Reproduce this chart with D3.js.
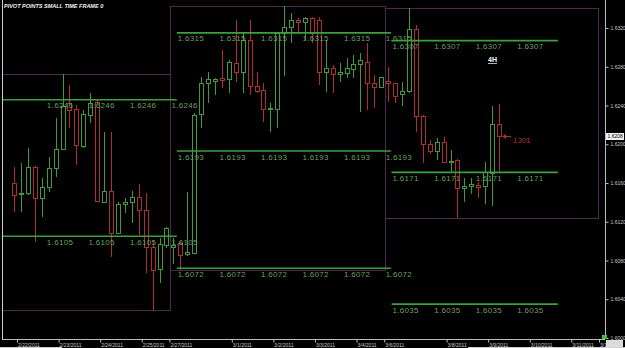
<!DOCTYPE html>
<html>
<head>
<meta charset="utf-8">
<script src="https://cdn.jsdelivr.net/npm/d3@7/dist/d3.min.js"></script>
<style>
  html, body { margin: 0; padding: 0; background: #000; }
  svg { display: block; }
</style>
</head>
<body>
<div id="chart"></div>
<script>
// 4H candles, GBP/USD style prices
const opens = [1.6160,1.6149,1.6150,1.6177,1.6144,1.6156,1.6175,1.6195,1.6243,1.6236,1.6198,1.6230,1.6244,1.6140,1.6152,1.6108,1.6138,1.6140,1.6146,1.6132,1.6094,1.6071,1.6096,1.6094,1.6098,1.6087,1.6088,1.6231,1.6263,1.6265,1.6268,1.6267,1.6284,1.6275,1.6308,1.6260,1.6256,1.6236,1.6236,1.6315,1.6321,1.6328,1.6326,1.6330,1.6328,1.6275,1.6279,1.6272,1.6274,1.6278,1.6283,1.6285,1.6263,1.6259,1.6265,1.6263,1.6252,1.6255,1.6319,1.6229,1.6200,1.6193,1.6202,1.6182,1.6184,1.6155,1.6157,1.6158,1.6157,1.6170,1.6221];
const highs = [1.6177,1.6181,1.6196,1.6178,1.6165,1.6187,1.6227,1.6273,1.6261,1.6241,1.6235,1.6253,1.6246,1.6213,1.6213,1.6140,1.6145,1.6152,1.6159,1.6150,1.6101,1.6103,1.6115,1.6103,1.6099,1.6151,1.6232,1.6269,1.6275,1.6268,1.6297,1.6287,1.6328,1.6316,1.6328,1.6275,1.6263,1.6243,1.6316,1.6343,1.6335,1.6330,1.6331,1.6331,1.6331,1.6308,1.6282,1.6284,1.6289,1.6292,1.6294,1.6305,1.6272,1.6269,1.6280,1.6263,1.6264,1.6341,1.6323,1.6230,1.6204,1.6206,1.6207,1.6194,1.6185,1.6165,1.6165,1.6161,1.6182,1.6239,1.6242];
const lows = [1.6130,1.6130,1.6148,1.6099,1.6125,1.6151,1.6166,1.6194,1.6217,1.6179,1.6196,1.6222,1.6140,1.6139,1.6084,1.6107,1.6129,1.6119,1.6106,1.6067,1.6029,1.6057,1.6093,1.6076,1.6070,1.6085,1.6088,1.6217,1.6243,1.6251,1.6258,1.6253,1.6264,1.6253,1.6251,1.6253,1.6223,1.6213,1.6217,1.6270,1.6305,1.6316,1.6308,1.6305,1.6261,1.6254,1.6253,1.6264,1.6268,1.6268,1.6233,1.6235,1.6237,1.6259,1.6244,1.6243,1.6239,1.6253,1.6213,1.6181,1.6190,1.6184,1.6181,1.6170,1.6124,1.6140,1.6149,1.6145,1.6138,1.6136,1.6171];
const closes = [1.6148,1.6150,1.6177,1.6144,1.6156,1.6175,1.6195,1.6239,1.6235,1.6199,1.6231,1.6243,1.6141,1.6152,1.6108,1.6138,1.6140,1.6146,1.6132,1.6094,1.6070,1.6097,1.6114,1.6096,1.6086,1.6089,1.6230,1.6263,1.6267,1.6267,1.6266,1.6285,1.6275,1.6308,1.6260,1.6255,1.6236,1.6237,1.6315,1.6321,1.6328,1.6326,1.6330,1.6315,1.6275,1.6279,1.6273,1.6275,1.6279,1.6283,1.6287,1.6263,1.6259,1.6269,1.6263,1.6250,1.6255,1.6319,1.6229,1.6200,1.6193,1.6202,1.6182,1.6183,1.6155,1.6157,1.6159,1.6156,1.6171,1.6221,1.6208];

// date labels on the time axis, with the bar index they sit on
const dateLabels = ["2/22/2011","2/23/2011","2/24/2011","2/25/2011","2/27/2011","3/1/2011","3/2/2011","3/3/2011","3/4/2011","3/6/2011","3/8/2011","3/9/2011","3/10/2011","3/11/2011","3/12/2011"];
const dateIdx = [0,6,12,18,22,31,37,43,49,53,62,68,74,80,84];

const yTicks = [1.6320,1.6280,1.6240,1.6200,1.6160,1.6120,1.6080,1.6040,1.6000];

// pivot periods (bar index ranges) and their levels
const periodStart = [-1.7, 22.5, 53.5];
const periodEnd = [22.5, 53.5, 84.3];
const pivotFrom = [-7.4, 23.5, 54.5];
const pivotTo = [23.5, 54.4, 78.5];
const pivotLevels = [[1.6246, 1.6105], [1.6315, 1.6193, 1.6072], [1.6307, 1.6171, 1.6035]];

const lastLabel = "1301";
const priceTag = "1.6208";

const W = 625, H = 348;
const green = "#3f9a3f", red = "#ad3030";

const svg = d3.select("#chart").append("svg")
	.attr("width", W)
	.attr("height", H)
	.style("background", "#000");

const x = d3.scaleLinear().domain([0, 70]).range([14, 499]);
const y = d3.scaleLinear().domain([1.6000, 1.6320]).range([338, 28]);
const fmt = d3.format(".4f");

svg.append("clipPath").attr("id", "plot")
	.append("rect").attr("x", 3).attr("y", 0).attr("width", 602).attr("height", 339);

const plot = svg.append("g").attr("clip-path", "url(#plot)");

// period boxes (high/low range of the bars in each period)
periodStart.forEach(function(s, k) {
	let e = periodEnd[k];
	let idx = d3.range(opens.length).filter(function(i) { return i > s && i < e; });
	let hi = d3.max(idx, function(i) { return highs[i]; });
	let lo = d3.min(idx, function(i) { return lows[i]; });
	plot.append("rect")
		.attr("x", Math.round(x(s)) + 0.5)
		.attr("y", Math.round(y(hi)) + 0.5)
		.attr("width", Math.round(x(e)) - Math.round(x(s)))
		.attr("height", Math.round(y(lo)) - Math.round(y(hi)))
		.attr("fill", "none")
		.attr("stroke", "#4e284f")
		.attr("stroke-width", 1);
});

// candles
const candles = plot.selectAll("g.candle")
	.data(d3.range(opens.length))
	.enter().append("g")
	.attr("class", "candle")
	.attr("shape-rendering", "crispEdges");

candles.append("line")
	.attr("x1", function(i) { return Math.round(x(i)) + 0.5; })
	.attr("x2", function(i) { return Math.round(x(i)) + 0.5; })
	.attr("y1", function(i) { return y(highs[i]); })
	.attr("y2", function(i) { return y(lows[i]); })
	.attr("stroke", function(i) { return closes[i] >= opens[i] ? green : red; });

candles.append("rect")
	.attr("x", function(i) { return Math.round(x(i)) - 2 + 0.5; })
	.attr("y", function(i) { return Math.round(y(Math.max(opens[i], closes[i]))) + 0.5; })
	.attr("width", 4)
	.attr("height", function(i) { return Math.max(1, Math.round(y(Math.min(opens[i], closes[i]))) - Math.round(y(Math.max(opens[i], closes[i])))); })
	.attr("fill", "#000")
	.attr("stroke", function(i) { return closes[i] >= opens[i] ? green : red; });

// pivot lines and their labels
pivotLevels.forEach(function(levels, k) {
	levels.forEach(function(v) {
		plot.append("line")
			.attr("x1", x(pivotFrom[k]))
			.attr("x2", x(pivotTo[k]))
			.attr("y1", y(v))
			.attr("y2", y(v))
			.attr("stroke", "#3aa23a")
			.attr("stroke-width", 1.6);
		let pos = d3.range(pivotFrom[k], pivotTo[k] - 0.5, 6).filter(function(p) { return p >= 0; });
		plot.selectAll(null)
			.data(pos)
			.enter().append("text")
			.attr("x", function(p) { return x(p) + 1; })
			.attr("y", y(v) + 8.5)
			.attr("font-family", "Liberation Sans, Arial, sans-serif")
			.attr("font-size", "8px")
			.attr("letter-spacing", "0.3px")
			.attr("fill", "#6b9f62")
			.text(fmt(v));
	});
});

// last bar marker label
const lastI = opens.length - 1;
const ly = y(closes[lastI]);
plot.append("line")
	.attr("x1", x(lastI) + 4).attr("x2", x(lastI) + 12)
	.attr("y1", ly).attr("y2", ly)
	.attr("stroke", red).attr("stroke-width", 1.2);
plot.append("path")
	.attr("d", "M" + (x(lastI) + 3) + "," + ly + "l4,-2.5l0,5z")
	.attr("fill", red);
plot.append("text")
	.attr("x", x(lastI) + 14)
	.attr("y", ly + 6)
	.attr("font-family", "Liberation Sans, Arial, sans-serif")
	.attr("font-size", "8px")
	.attr("fill", red)
	.text(lastLabel);

// frame
svg.append("line").attr("x1", 2.5).attr("x2", 2.5).attr("y1", 0).attr("y2", 339)
	.attr("stroke", "#cfcfcf");
svg.append("line").attr("x1", 2).attr("x2", 605).attr("y1", 339.5).attr("y2", 339.5)
	.attr("stroke", "#bdbdbd");

// price axis
const yAxis = svg.append("g")
	.attr("transform", "translate(605.5,0)")
	.call(d3.axisRight(y).tickValues(yTicks).tickFormat(fmt).tickSize(3).tickPadding(2));
yAxis.select(".domain").attr("stroke", "#bdbdbd").attr("d", "M0,0V339");
yAxis.selectAll(".tick line").attr("stroke", "#bdbdbd");
yAxis.selectAll("text")
	.attr("fill", "#c8c8c8")
	.attr("font-family", "Liberation Sans, Arial, sans-serif")
	.attr("font-size", "5px");

// time axis
const xAxis = svg.append("g")
	.attr("transform", "translate(0,339.5)")
	.call(d3.axisBottom(x).tickValues(dateIdx)
		.tickFormat(function(d, i) { return dateLabels[i]; })
		.tickSize(3).tickPadding(1));
xAxis.select(".domain").remove();
xAxis.selectAll(".tick line").attr("stroke", "#bdbdbd").attr("transform", "translate(3,0)");
xAxis.selectAll("text")
	.attr("text-anchor", "start")
	.attr("dx", "3.5")
	.attr("fill", "#c8c8c8")
	.attr("font-family", "Liberation Sans, Arial, sans-serif")
	.attr("font-size", "5px");

// current price tag on the axis
svg.append("rect")
	.attr("x", 606).attr("y", y(1.6208) - 3.5)
	.attr("width", 18).attr("height", 7)
	.attr("fill", "#f2f2f2");
svg.append("text")
	.attr("x", 607.5).attr("y", y(1.6208) + 1.8)
	.attr("font-family", "Liberation Sans, Arial, sans-serif")
	.attr("font-size", "5px")
	.attr("fill", "#000")
	.text(priceTag);

// bottom right corner bits
svg.append("rect").attr("x", 602).attr("y", 335).attr("width", 5).attr("height", 4).attr("fill", "#3cc03c");
svg.append("rect").attr("x", 606).attr("y", 340).attr("width", 17).attr("height", 7).attr("fill", "#dcdcdc");
svg.append("line").attr("x1", 0).attr("x2", 62).attr("y1", 347.5).attr("y2", 347.5).attr("stroke", "#d0d0d0");
svg.append("line").attr("x1", 468).attr("x2", 625).attr("y1", 347.5).attr("y2", 347.5).attr("stroke", "#d0d0d0");

// titles
svg.append("text")
	.attr("x", 4).attr("y", 7.5)
	.attr("font-family", "Liberation Sans, Arial, sans-serif")
	.attr("font-size", "5.5px")
	.attr("font-weight", "bold")
	.attr("font-style", "italic")
	.attr("fill", "#f0f0f0")
	.text("PIVOT POINTS SMALL TIME FRAME 0");

svg.append("text")
	.attr("x", 488).attr("y", 62)
	.attr("font-family", "Liberation Sans, Arial, sans-serif")
	.attr("font-size", "7px")
	.attr("font-weight", "bold")
	.attr("text-decoration", "underline")
	.attr("fill", "#ffffff")
	.text("4H");
</script>
</body>
</html>
